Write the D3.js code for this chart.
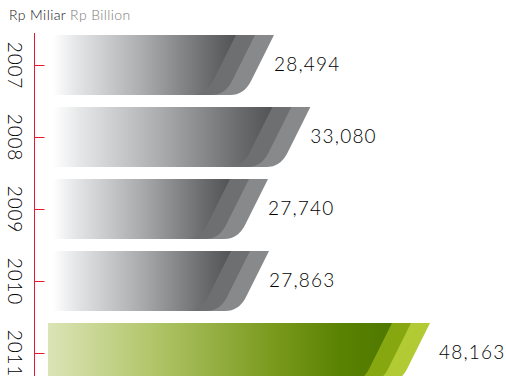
<!DOCTYPE html>
<html>
<head>
<meta charset="utf-8">
<script src="https://cdn.jsdelivr.net/npm/d3@7"></script>
<style>
  html, body { margin: 0; padding: 0; background: #fff; }
  svg { display: block; }
</style>
</head>
<body>
<svg id="chart" width="506" height="376"></svg>
<script>
// Revenue per year, Rp billion
const years = ["2007", "2008", "2009", "2010", "2011"];
const values = [28494, 33080, 27740, 27863, 48163];
const valueLabels = ["28,494", "33,080", "27,740", "27,863", "48,163"];
const highlightYear = "2011";

const W = 506, H = 376;
const svg = d3.select("#chart");
const font = "Lato, 'Open Sans', sans-serif";

const x = d3.scaleLinear().domain([0, 48163]).range([48, 430]);
const y = d3.scaleBand().domain(years).range([29, 389]).paddingInner(0.17).paddingOuter(0.085);

const defs = svg.append("defs");
const grayGrad = defs.append("linearGradient").attr("id", "grayFront")
  .attr("x1", 0).attr("x2", 1).attr("y1", 0).attr("y2", 0);
[[0, "#ffffff"], [0.12, "#e6e7e8"], [0.5, "#a9aaac"], [0.85, "#6a6b6d"], [1, "#525355"]]
  .forEach(([o, c]) => grayGrad.append("stop").attr("offset", o).attr("stop-color", c));
const greenGrad = defs.append("linearGradient").attr("id", "greenFront")
  .attr("x1", 0).attr("x2", 1).attr("y1", 0).attr("y2", 0);
[[0, "#dbe4b7"], [0.3, "#b2c66a"], [0.65, "#7a9a1e"], [0.85, "#5a8202"], [1, "#4e7800"]]
  .forEach(([o, c]) => greenGrad.append("stop").attr("offset", o).attr("stop-color", c));

const slant = 30, radius = 14, step = 19;

// bar outline with a slanted, softly rounded right end
function barPath(xl, xr, y0, y1) {
  const h = y1 - y0;
  const t = (h - radius) / h;
  const p = d3.path();
  p.moveTo(xl, y0);
  p.lineTo(xr, y0);
  p.lineTo(xr - slant * t, y0 + h * t);
  p.quadraticCurveTo(xr - slant, y1, xr - slant - radius, y1);
  p.lineTo(xl, y1);
  p.closePath();
  return p.toString();
}

const layersGray = ["#88898b", "#6e6f71", "url(#grayFront)"];
const layersGreen = ["#b2cb34", "#86a70f", "url(#greenFront)"];

years.forEach((yr, i) => {
  const hi = yr === highlightYear;
  const y0 = y(yr), y1 = y0 + y.bandwidth();
  const xl = hi ? 48 : 53;
  const xr = x(values[i]);
  const fills = hi ? layersGreen : layersGray;
  const g = svg.append("g");
  fills.forEach((f, k) => {
    g.append("path")
      .attr("d", barPath(xl, xr - step * k, y0, y1))
      .attr("fill", f);
  });
  svg.append("text")
    .attr("x", xr + (hi ? 9 : 0))
    .attr("y", y0 + y.bandwidth() / 2 - 2)
    .attr("dominant-baseline", "central")
    .attr("font-family", font)
    .attr("font-weight", 300)
    .attr("font-size", 19)
    .attr("letter-spacing", 1.2)
    .attr("fill", "#000")
    .text(valueLabels[i]);
});

// vertical red axis with year ticks
const axisX = 34.5;
svg.append("line")
  .attr("x1", axisX).attr("x2", axisX).attr("y1", 33).attr("y2", H)
  .attr("stroke", "#e8192c").attr("stroke-width", 1);
years.forEach(yr => {
  const cy = Math.round(y(yr) + y.bandwidth() / 2) + 0.5;
  svg.append("line")
    .attr("x1", axisX).attr("x2", axisX + 10).attr("y1", cy).attr("y2", cy)
    .attr("stroke", "#e8192c").attr("stroke-width", 1);
  svg.append("text")
    .attr("transform", `translate(8,${cy}) rotate(90)`)
    .attr("text-anchor", "middle")
    .attr("font-family", font)
    .attr("font-weight", 300)
    .attr("font-size", 19)
    .attr("letter-spacing", 0.8)
    .attr("fill", "#000")
    .text(yr);
});

// unit caption
const cap = svg.append("text")
  .attr("x", 9).attr("y", 20)
  .attr("font-family", font).attr("font-weight", 300)
  .attr("font-size", 14).attr("letter-spacing", 0.4);
cap.append("tspan").attr("fill", "#111").text("Rp Miliar ");
cap.append("tspan").attr("fill", "#7a7a7a").text("Rp Billion");
</script>
</body>
</html>
